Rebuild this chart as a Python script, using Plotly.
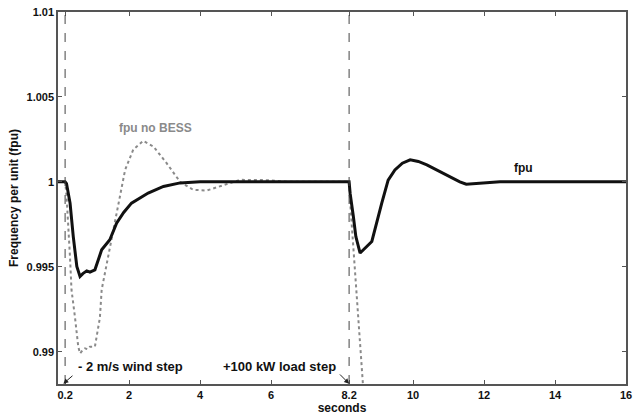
import plotly.graph_objects as go

# Solid curve: fpu (with BESS)
t_fpu = [0, 0.2, 0.24, 0.29, 0.34, 0.43, 0.53, 0.62, 0.7, 0.81, 0.9, 1.04, 1.13, 1.23,
         1.46, 1.65, 1.85, 2.07, 2.54, 2.97, 3.44, 4.0, 8.2, 8.23, 8.32, 8.39, 8.51, 8.65,
         8.84, 9.12, 9.3, 9.49, 9.7, 9.92, 10.15, 10.39, 10.85, 11.32, 11.5, 12.0, 12.45, 16]
fpu = [1.0, 1.0, 0.9999, 0.9994, 0.99875, 0.99678, 0.99502, 0.99443, 0.9946, 0.99476,
       0.99469, 0.99482, 0.9954, 0.996, 0.99659, 0.99757, 0.9982, 0.99875, 0.99934,
       0.99973, 0.99994, 1.0, 1.0, 0.9993, 0.99796, 0.99678, 0.99581, 0.9961, 0.99649,
       0.99875, 1.0001, 1.0007, 1.0011, 1.0013, 1.0012, 1.0010, 1.0005, 1.0, 0.99986,
       0.99992, 1.0, 1.0]

# Dotted curve: fpu no BESS
t_nobess = [0, 0.2, 0.24, 0.29, 0.34, 0.38, 0.41, 0.48, 0.57, 0.62, 0.7, 0.76, 0.83, 0.9,
            1.04, 1.12, 1.18, 1.23, 1.37, 1.47, 1.56, 1.61, 1.72, 1.89, 2.12, 2.4, 2.69,
            3.06, 3.44, 3.81, 4.19, 4.66, 5.13, 5.9, 6.5, 8.2, 8.23, 8.59, 8.65]
fpu_nobess = [1.0, 1.0, 0.9992, 0.9975, 0.9955, 0.99365, 0.9932, 0.992, 0.9903, 0.9899,
              0.9901, 0.9902, 0.99015, 0.9903, 0.9903, 0.9912, 0.9920, 0.99365, 0.9951,
              0.9962, 0.9972, 0.9977, 0.9989, 1.0007, 1.0019, 1.00241, 1.00208, 1.0011,
              1.0000, 0.99953, 0.99949, 0.99982, 1.00012, 1.0001, 1.0, 1.0, 0.9988,
              0.98807, 0.9875]

event_times = [0.2, 8.2]

x_tickvals = [0.2, 2, 4, 6, 8.2, 10, 12, 14, 16]
x_ticktext = ["0.2", "2", "4", "6", "8.2", "10", "12", "14", "16"]
y_tickvals = [0.99, 0.995, 1.0, 1.005, 1.01]
y_ticktext = ["0.99", "0.995", "1", "1.005", "1.01"]

FONT = "Liberation Sans, Arial, sans-serif"

fig = go.Figure()
fig.add_trace(go.Scatter(x=t_nobess, y=fpu_nobess, mode="lines",
                         line=dict(color="#8a8a8a", width=2, dash="dot"),
                         showlegend=False, hoverinfo="skip"))
fig.add_trace(go.Scatter(x=t_fpu, y=fpu, mode="lines",
                         line=dict(color="#111111", width=3),
                         showlegend=False))

for t in event_times:
    fig.add_shape(type="line", xref="x", yref="paper", x0=t, x1=t, y0=0, y1=1,
                  line=dict(color="#444444", width=1, dash="dash"))

fig.add_annotation(x=2.76, y=1.00318, text="fpu no BESS", showarrow=False,
                   font=dict(family=FONT, size=12, color="#8a8a8a", weight="bold"))
fig.add_annotation(x=13.1, y=1.00082, text="fpu", showarrow=False,
                   font=dict(family=FONT, size=12, color="#111111", weight="bold"))
fig.add_annotation(x=2.03, y=0.98915, text="- 2 m/s wind step", showarrow=False,
                   font=dict(family=FONT, size=13, color="#111111", weight="bold"))
fig.add_annotation(x=6.25, y=0.98915, text="+100 kW load step", showarrow=False,
                   font=dict(family=FONT, size=13, color="#111111", weight="bold"))
# arrows
fig.add_annotation(x=0.15, y=0.98812, ax=0.45, ay=0.98866, axref="x", ayref="y",
                   text="", showarrow=True, arrowhead=2, arrowsize=1, arrowwidth=1,
                   arrowcolor="#222222")
fig.add_annotation(x=8.2, y=0.98812, ax=7.9, ay=0.98875, axref="x", ayref="y",
                   text="", showarrow=True, arrowhead=2, arrowsize=1, arrowwidth=1,
                   arrowcolor="#222222")

fig.update_xaxes(range=[0, 16], tickvals=x_tickvals, ticktext=x_ticktext,
                 showgrid=False, zeroline=False, showline=True, linecolor="#555555",
                 linewidth=1.5, mirror="ticks", ticks="inside", ticklen=4,
                 tickcolor="#555555",
                 tickfont=dict(family=FONT, size=11, color="#111111", weight="bold"),
                 title=dict(text="seconds", standoff=0,
                            font=dict(family=FONT, size=12, color="#111111", weight="bold")))
fig.update_yaxes(range=[0.9881, 1.01], tickvals=y_tickvals, ticktext=y_ticktext,
                 showgrid=False, zeroline=False, showline=True, linecolor="#555555",
                 linewidth=1.5, mirror="ticks", ticks="inside", ticklen=4,
                 tickcolor="#555555",
                 tickfont=dict(family=FONT, size=11, color="#111111", weight="bold"),
                 title=dict(text="Frequency per unit (fpu)", standoff=5,
                            font=dict(family=FONT, size=12, color="#111111", weight="bold")))

fig.update_layout(width=633, height=416, plot_bgcolor="white", paper_bgcolor="white",
                  margin=dict(l=58, r=7, t=12, b=32, autoexpand=False), showlegend=False)

fig.write_html("out.html", config={"displayModeBar": False},
               post_script="document.body.style.margin='0';document.body.style.overflow='hidden';")
